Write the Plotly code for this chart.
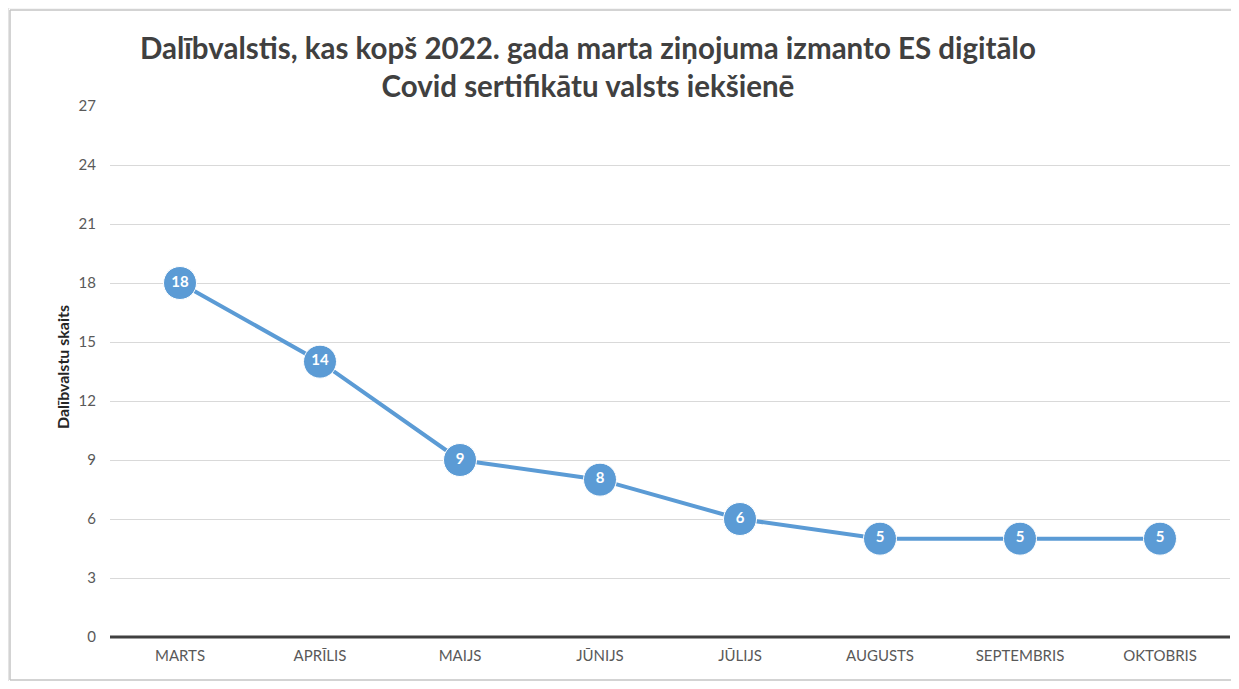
import plotly.graph_objects as go

months = ["MARTS", "APRĪLIS", "MAIJS", "JŪNIJS", "JŪLIJS", "AUGUSTS", "SEPTEMBRIS", "OKTOBRIS"]
counts = [18, 14, 9, 8, 6, 5, 5, 5]
y_ticks = [0, 3, 6, 9, 12, 15, 18, 21, 24, 27]

title_text = "Dalībvalstis, kas kopš 2022. gada marta ziņojuma izmanto ES digitālo<br>Covid sertifikātu valsts iekšienē"
y_title = "Dalībvalstu skaits"

FONT = "Lato"
OFF = 8  # page body margin offset
W, H = 1239 - OFF, 689 - 2 * OFF
# plot area in reference pixel coordinates
PL, PR, PT, PB = 110, 1230, 106, 637
L = PL - OFF
T = PT - OFF
R = W - (PR - OFF)
B = H - (PB - OFF)
pw = PR - PL
ph = PB - PT

def px_x(px):
    return (px - PL) / pw

def px_y(py):
    return (PB - py) / ph

def frame_line(x0, y0, x1, y1, color, width):
    return dict(type="line", xref="paper", yref="paper",
                x0=px_x(x0), x1=px_x(x1), y0=px_y(y0), y1=px_y(y1),
                line=dict(color=color, width=width), layer="below")

fig = go.Figure()
fig.add_trace(go.Scatter(
    x=months, y=counts,
    mode="lines+markers+text",
    line=dict(color="#5B9BD5", width=4),
    marker=dict(size=33, color="#5B9BD5", line=dict(color="white", width=1)),
    text=[str(v) for v in counts],
    textposition="middle center",
    textfont=dict(family=FONT, size=15, color="white", weight="bold"),
    cliponaxis=False,
    hoverinfo="x+y",
))

fig.update_layout(
    width=W, height=H,
    margin=dict(l=L, r=R, t=T, b=B),
    paper_bgcolor="white",
    plot_bgcolor="white",
    showlegend=False,
    font=dict(family=FONT, color="#595959", size=15),
    xaxis=dict(
        type="category",
        range=[-0.5, len(months) - 0.5],
        showgrid=False,
        showline=False,
        ticks="",
        ticklabelstandoff=8,
        tickfont=dict(family=FONT, size=15, color="#595959"),
        zeroline=False,
    ),
    yaxis=dict(
        range=[0, 27],
        tickvals=y_ticks,
        ticktext=[str(v) for v in y_ticks],
        showgrid=True,
        gridcolor="#D9D9D9",
        gridwidth=1,
        zeroline=False,
        showline=False,
        ticks="",
        ticklabelstandoff=13,
        tickfont=dict(family=FONT, size=15, color="#595959"),
    ),
    annotations=[
        dict(
            text=title_text, x=px_x(588), y=px_y(66), xref="paper", yref="paper",
            xanchor="center", yanchor="middle", showarrow=False, align="center",
            font=dict(family=FONT, size=29.5, color="#404040", weight="bold"),
        ),
        dict(
            text=y_title, x=px_x(62), y=px_y(367), xref="paper", yref="paper",
            xanchor="center", yanchor="middle", showarrow=False, textangle=-90,
            font=dict(family=FONT, size=16, color="#262626", weight="bold"),
        ),
    ],
    shapes=[
        dict(type="line", xref="paper", yref="paper", x0=0, x1=1, y0=0, y1=0,
             line=dict(color="#404040", width=3), layer="above"),
        # soft shadow
        frame_line(7, 7, 1260, 7, "#ECECEC", 3),
        frame_line(7, 7, 7, 683, "#E4E4E4", 4),
        frame_line(7, 683, 1260, 683, "#ECECEC", 3),
        # frame
        frame_line(10, 10, 1260, 10, "#C4C4C4", 1.5),
        frame_line(10, 10, 10, 680, "#C4C4C4", 1.5),
        frame_line(10, 680, 1260, 680, "#C4C4C4", 1.5),
    ],
)

fig.write_html("out.html")
